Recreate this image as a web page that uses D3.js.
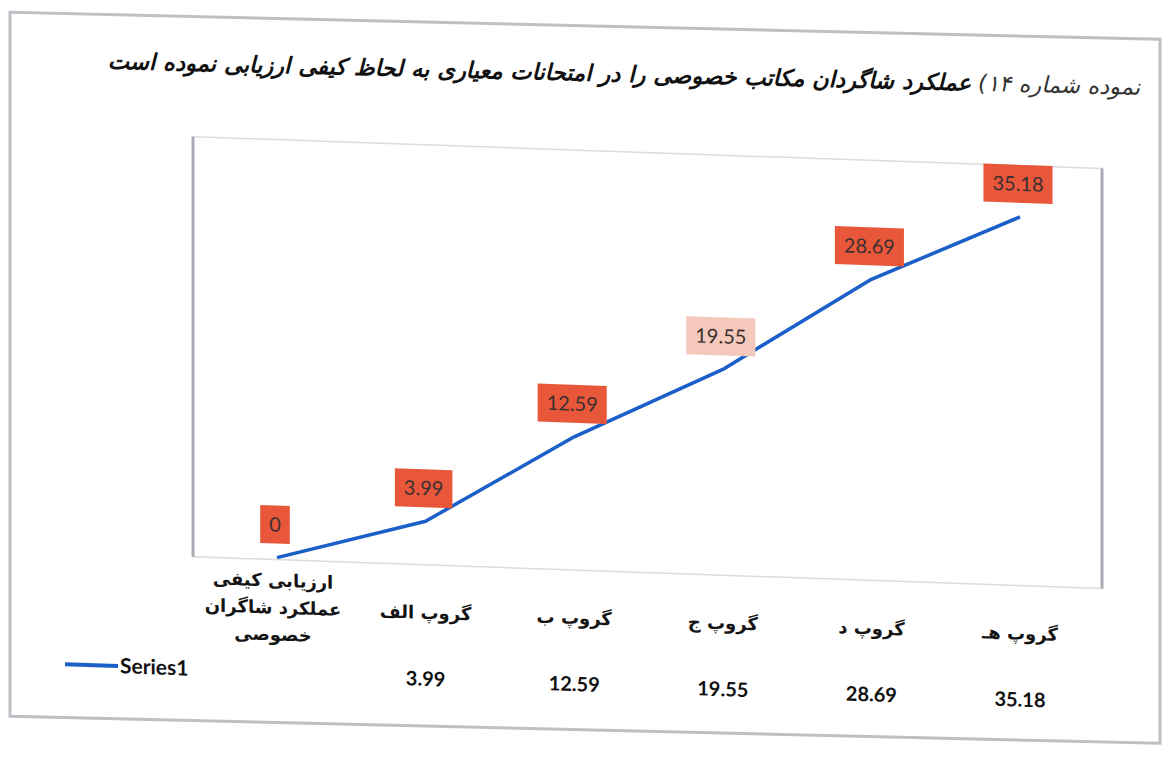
<!DOCTYPE html>
<html>
<head>
<meta charset="utf-8">
<script src="https://cdn.jsdelivr.net/npm/d3@7"></script>
<style>
  body { margin: 0; background: #fff; }
  svg { display: block; }
</style>
</head>
<body>
<svg width="1163" height="758"></svg>
<script>
// chart values
const categories = [
  "ارزیابی کیفی\nعملکرد شاگران\nخصوصی",
  "گروپ الف",
  "گروپ ب",
  "گروپ ج",
  "گروپ د",
  "گروپ هـ"
];
const values = [0, 3.99, 12.59, 19.55, 28.69, 35.18];
const seriesName = "Series1";
const yDomain = [0, 40];
const titleLead = "نموده شماره ۱۴) ";
const titleRest = " عملکرد شاگردان مکاتب خصوصی را در امتحانات معیاری به لحاظ کیفی ارزیابی نموده است";

const data = categories.map((c, i) => ({ cat: c, value: values[i], i: i }));

const svg = d3.select("svg");
const lineColor = "#1b5fc9";
const arabicFont = "'DejaVu Sans', sans-serif";
const numFont = "Lato, 'Open Sans', sans-serif";

// the printed page was photographed at a slant, so horizontal
// edges lean a little: fake it with skewY on each part
svg.append("rect")
  .attr("x", 10).attr("y", 12)
  .attr("width", 1150).attr("height", 704)
  .attr("transform", "skewY(1.35)")
  .attr("fill", "#fff")
  .attr("stroke", "#bfc0c6")
  .attr("stroke-width", 3);

const gt = svg.append("g").attr("transform", "skewY(1.45)");
const g = svg.append("g").attr("transform", "skewY(2)");

// scales
const x = d3.scalePoint().domain(categories).range([277, 1020]);
const y = d3.scaleLinear().domain(yDomain).range([548, 131]);
const plot = { left: 193, right: 1102, top: 130, bottom: y(0) + 2 };

// plot area
g.append("rect")
  .attr("x", plot.left).attr("y", plot.top)
  .attr("width", plot.right - plot.left)
  .attr("height", plot.bottom - plot.top)
  .attr("fill", "#fff")
  .attr("stroke", "#dcdcdf")
  .attr("stroke-width", 1.5);
// shadowed side edges
g.append("line")
  .attr("x1", plot.left).attr("x2", plot.left)
  .attr("y1", plot.top).attr("y2", plot.bottom)
  .attr("stroke", "#a9aab3").attr("stroke-width", 3);
g.append("line")
  .attr("x1", plot.right).attr("x2", plot.right)
  .attr("y1", plot.top).attr("y2", plot.bottom)
  .attr("stroke", "#a9aab3").attr("stroke-width", 3);

// title
const title = gt.append("text")
  .attr("x", 624).attr("y", 66)
  .attr("direction", "rtl")
  .attr("text-anchor", "middle")
  .style("font-family", arabicFont)
  .style("font-style", "italic")
  .style("font-size", "22.6px")
  .attr("fill", "#111");
title.append("tspan").style("font-weight", "normal").attr("fill", "#333").text(titleLead);
title.append("tspan").style("font-weight", "bold").text(titleRest);

// series line
const line = d3.line()
  .x(d => x(d.cat))
  .y(d => y(d.value));

g.append("path")
  .datum(data)
  .attr("fill", "none")
  .attr("stroke", lineColor)
  .attr("stroke-width", 3.5)
  .attr("stroke-linejoin", "round")
  .attr("d", line);

// data labels in orange boxes
const lbl = g.selectAll(".lbl")
  .data(data)
  .join("g")
  .attr("class", "lbl")
  .attr("transform", d => "translate(" + (x(d.cat) - 2) + "," + (y(d.value) - 33) + ")");

lbl.append("rect").attr("class", "box");
lbl.append("text")
  .attr("text-anchor", "middle")
  .attr("dy", "0.35em")
  .style("font-family", numFont)
  .style("font-size", "20px")
  .attr("fill", "#3a3030")
  .text(d => d.value);

lbl.each(function(d) {
  const w = d3.select(this).select("text").node().getComputedTextLength() + 18;
  d3.select(this).select("rect")
    .attr("x", -w / 2).attr("y", -19)
    .attr("width", w).attr("height", 38)
    .attr("fill", d.i === 3 ? "#f4c8bb" : "#e9573b");
});

// category labels under the plot
const cats = g.selectAll(".cat")
  .data(data)
  .join("text")
  .attr("class", "cat")
  .attr("text-anchor", "middle")
  .attr("direction", "rtl")
  .style("font-family", arabicFont)
  .style("font-weight", "bold")
  .style("font-size", "18px")
  .attr("fill", "#151515");

cats.each(function(d) {
  const lines = d.cat.split("\n");
  const t = d3.select(this);
  const y0 = 604 - (lines.length - 1) * 27 / 2;
  lines.forEach((s, k) => {
    t.append("tspan")
      .attr("x", x(d.cat) - (d.i === 0 ? 4 : 0))
      .attr("y", y0 + k * 27)
      .text(s);
  });
});

// data table row
g.selectAll(".val")
  .data(data.filter(d => d.value !== 0))
  .join("text")
  .attr("class", "val")
  .attr("x", d => x(d.cat))
  .attr("y", 671)
  .attr("text-anchor", "middle")
  .style("font-family", numFont)
  .style("font-weight", "bold")
  .style("font-size", "20px")
  .attr("fill", "#111")
  .text(d => d.value);

// legend key
g.append("line")
  .attr("x1", 65).attr("x2", 118)
  .attr("y1", 662).attr("y2", 662)
  .attr("stroke", lineColor)
  .attr("stroke-width", 4);
g.append("text")
  .attr("x", 120).attr("y", 669)
  .style("font-family", numFont)
  .style("font-weight", "bold")
  .style("font-size", "21px")
  .attr("fill", "#111")
  .text(seriesName);
</script>
</body>
</html>
